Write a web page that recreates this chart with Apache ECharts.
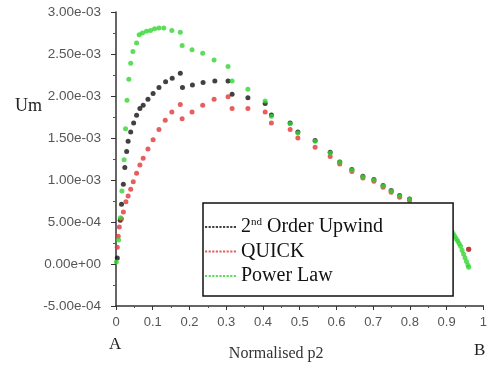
<!DOCTYPE html>
<html>
<head>
<meta charset="utf-8">
<script src="https://cdn.jsdelivr.net/npm/echarts@6/dist/echarts.min.js"></script>
<style>html,body{margin:0;padding:0;background:#fff}#c{width:490px;height:367px}</style>
</head>
<body>
<div id="c"></div>
<script>
const seriesNames = ['2nd Order Upwind', 'QUICK', 'Power Law'];
const xTickLabels = ['0','0.1','0.2','0.3','0.4','0.5','0.6','0.7','0.8','0.9','1'];

const upwindX = [0.0035,0.0116,0.015,0.020,0.024,0.029,0.033,0.040,0.048,0.056,0.065,0.074,0.087,0.101,0.117,0.135,0.153,0.175,
  0.181,0.208,0.237,0.269,0.305,0.316,0.359,0.406,0.423,0.474,0.495,0.542,0.583,0.609,0.642,0.672,0.702,0.727,0.749,0.772,0.799,0.960];
const upwindY = [7e-5,5.2e-4,7.1e-4,9.5e-4,1.15e-3,1.34e-3,1.46e-3,1.57e-3,1.68e-3,1.77e-3,1.85e-3,1.89e-3,1.96e-3,2.03e-3,2.10e-3,2.17e-3,2.21e-3,2.27e-3,
  2.10e-3,2.13e-3,2.16e-3,2.18e-3,2.18e-3,2.02e-3,1.98e-3,1.91e-3,1.775e-3,1.68e-3,1.57e-3,1.47e-3,1.33e-3,1.215e-3,1.125e-3,1.045e-3,1.005e-3,9.35e-4,8.75e-4,8.15e-4,7.75e-4,1.77e-4];

const quickX = [0.0035,0.006,0.009,0.015,0.020,0.027,0.033,0.040,0.047,0.056,0.065,0.074,0.087,0.101,0.117,0.134,0.152,0.175,
  0.180,0.207,0.236,0.267,0.305,0.316,0.359,0.406,0.423,0.474,0.495,0.542,0.583,0.609,0.642,0.672,0.702,0.727,0.749,0.772,0.799,0.960];
const quickY = [2.0e-4,3.3e-4,4.4e-4,5.4e-4,6.2e-4,7.4e-4,8.1e-4,8.9e-4,9.8e-4,1.08e-3,1.18e-3,1.26e-3,1.37e-3,1.48e-3,1.60e-3,1.71e-3,1.81e-3,1.90e-3,
  1.73e-3,1.81e-3,1.89e-3,1.96e-3,1.99e-3,1.85e-3,1.85e-3,1.81e-3,1.68e-3,1.60e-3,1.50e-3,1.39e-3,1.28e-3,1.19e-3,1.10e-3,1.025e-3,9.85e-4,9.15e-4,8.55e-4,7.95e-4,7.55e-4,1.77e-4];

const powerX = [0.001,0.007,0.012,0.016,0.022,0.026,0.030,0.035,0.040,0.046,0.056,0.063,0.072,0.083,0.094,0.105,0.117,0.130,0.152,0.175,
  0.180,0.207,0.236,0.267,0.305,0.316,0.359,0.406,0.423,0.474,0.495,0.542,0.583,0.609,0.642,0.672,0.702,0.727,0.749,0.772,0.799,
  0.914,0.918,0.922,0.926,0.930,0.934,0.938,0.942,0.946,0.950,0.954,0.958,0.960];
const powerY = [2.4e-5,2.86e-4,5.5e-4,8.7e-4,1.24e-3,1.61e-3,1.95e-3,2.20e-3,2.39e-3,2.53e-3,2.63e-3,2.73e-3,2.75e-3,2.77e-3,2.78e-3,2.80e-3,2.81e-3,2.81e-3,2.78e-3,2.76e-3,
  2.60e-3,2.55e-3,2.51e-3,2.43e-3,2.35e-3,2.18e-3,2.08e-3,1.94e-3,1.76e-3,1.67e-3,1.56e-3,1.46e-3,1.32e-3,1.21e-3,1.12e-3,1.04e-3,1.00e-3,9.3e-4,8.7e-4,8.1e-4,7.7e-4,
  3.9e-4,3.6e-4,3.3e-4,3.0e-4,2.75e-4,2.45e-4,2.1e-4,1.65e-4,1.2e-4,7.5e-5,3e-5,-1.5e-5,-4e-5];

function zip(xs, ys) { return xs.map((x, i) => [x, ys[i]]); }

function fmtExp(v) {
  if (Math.abs(v) < 1e-12) return '0.00e+00';
  const s = v.toExponential(2);
  const [m, e] = s.split('e');
  const sign = e[0] === '-' ? '-' : '+';
  const d = e.replace(/^[+-]/, '').padStart(2, '0');
  return m + 'e' + sign + d;
}

const dotIcon = 'path://' + Array.from({length: 9}, (_, i) => `M${i*3.6} 0h2.2v2.2h-2.2Z`).join(' ');

const chart = echarts.init(document.getElementById('c'));
chart.setOption({
  animation: false,
  backgroundColor: '#fff',
  grid: { left: 116, top: 12, right: 3, bottom: 60 },
  xAxis: {
    type: 'value', min: 0, max: 1, interval: 0.1,
    name: 'Normalised p2', nameLocation: 'middle', nameGap: 40,
    nameTextStyle: { fontFamily: 'Liberation Serif', fontSize: 16, color: '#333', padding: [0, 47, 0, 0] },
    axisLine: { show: true, onZero: false, lineStyle: { color: '#333', width: 1.5 } },
    axisTick: { show: true, length: 4, lineStyle: { color: '#333' } },
    minorTick: { show: true, splitNumber: 2, length: 2, lineStyle: { color: '#555' } },
    splitLine: { show: false },
    axisLabel: { color: '#555', fontFamily: 'Liberation Sans', fontSize: 13, margin: 10,
      formatter: (v) => xTickLabels[Math.round(v * 10)] }
  },
  yAxis: {
    type: 'value', min: -0.0005, max: 0.003, interval: 0.0005,
    axisLine: { show: true, lineStyle: { color: '#333', width: 1.5 } },
    axisTick: { show: true, length: 5, lineStyle: { color: '#333' } },
    minorTick: { show: true, splitNumber: 2, length: 3, lineStyle: { color: '#555' } },
    splitLine: { show: false },
    axisLabel: { color: '#555', fontFamily: 'Liberation Sans', fontSize: 13.5, margin: 15, formatter: fmtExp }
  },
  legend: {
    orient: 'vertical', left: 203, top: 203,
    backgroundColor: '#fff', borderColor: '#111', borderWidth: 1.5,
    padding: [13, 70, 9, 2],
    itemWidth: 31, itemHeight: 2.2, itemGap: 2.5,
    icon: dotIcon,
    data: seriesNames,
    formatter: (n) => n === '2nd Order Upwind' ? '2{sup|nd} Order Upwind' : n,
    textStyle: { fontFamily: 'Liberation Serif', fontSize: 20, color: '#111', lineHeight: 22,
      rich: { sup: { fontSize: 11, fontFamily: 'Liberation Serif', color: '#111', padding: [0, 0, 9, 0] } } },
    z: 10
  },
  graphic: [
    { type: 'text', left: 15, top: 97, style: { text: 'Um', font: '18px "Liberation Serif"', fill: '#222' } },
    { type: 'text', left: 109, top: 336, style: { text: 'A', font: '17px "Liberation Serif"', fill: '#222' } },
    { type: 'text', left: 474, top: 342, style: { text: 'B', font: '17px "Liberation Serif"', fill: '#222' } }
  ],
  series: [
    { name: seriesNames[0], type: 'scatter', symbolSize: 5, itemStyle: { color: '#111' }, data: zip(upwindX, upwindY), z: 2 },
    { name: seriesNames[1], type: 'scatter', symbolSize: 5, itemStyle: { color: '#e23434' }, data: zip(quickX, quickY), z: 2 },
    { name: seriesNames[2], type: 'scatter', symbolSize: 5, itemStyle: { color: '#33d633' }, data: zip(powerX, powerY), z: 3 }
  ]
});
</script>
</body>
</html>
